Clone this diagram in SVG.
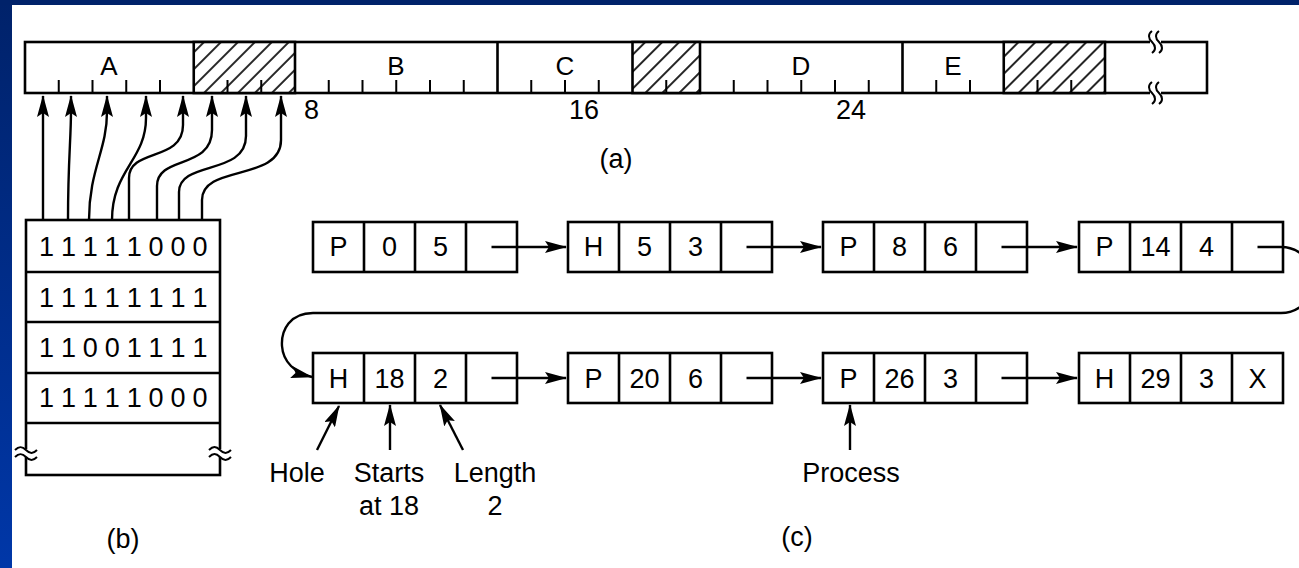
<svg xmlns="http://www.w3.org/2000/svg" width="1299" height="568" viewBox="0 0 1299 568">
<style>
.t{font-family:"Liberation Sans",Arial,Helvetica,sans-serif;font-size:27px;fill:#000;text-anchor:middle}
.ts{font-family:"Liberation Sans",Arial,Helvetica,sans-serif;font-size:27px;fill:#000;text-anchor:start}
.bl{font-size:26px}
.bits{letter-spacing:-0.3px}
.bx{fill:#fff;stroke:#000;stroke-width:2.6}
.ln{fill:none;stroke:#000;stroke-width:2.6}
.tk{fill:none;stroke:#000;stroke-width:2}
.ar{fill:none;stroke:#000;stroke-width:2.4;marker-end:url(#ah)}
</style>
<defs>
<linearGradient id="bg" x1="0" y1="0" x2="0" y2="1">
<stop offset="0" stop-color="#00226a"/>
<stop offset="1" stop-color="#0037a8"/>
</linearGradient>
<pattern id="hatch" patternUnits="userSpaceOnUse" width="12" height="12" patternTransform="rotate(45)">
<rect width="12" height="12" fill="#fff"/>
<line x1="6" y1="0" x2="6" y2="12" stroke="#000" stroke-width="1.7"/>
</pattern>
<marker id="ah" markerUnits="userSpaceOnUse" markerWidth="22" markerHeight="12" refX="21" refY="6" orient="auto">
<path d="M0,0 L22,6 L0,12 L4,6 z" fill="#000"/>
</marker>
</defs>
<rect width="1299" height="568" fill="url(#bg)"/>
<rect x="0" y="0" width="1299" height="5" fill="#00226a"/>
<rect x="12" y="5" width="1287" height="563" fill="#fff"/>

<g id="memory-bar">
<rect class="bx" x="25" y="42" width="1182" height="51"/>
<rect x="193.75" y="42" width="101.25" height="51" fill="url(#hatch)" stroke="#000" stroke-width="2.6"/>
<rect x="632.5" y="42" width="67.5" height="51" fill="url(#hatch)" stroke="#000" stroke-width="2.6"/>
<rect x="1003.75" y="42" width="101.25" height="51" fill="url(#hatch)" stroke="#000" stroke-width="2.6"/>
<path class="ln" d="M497.5,42V93 M902.5,42V93"/>
<path class="tk" d="M58.75,93V80 M92.5,93V80 M126.25,93V80 M160,93V80 M227.5,93V80 M261.25,93V80 M328.75,93V80 M362.5,93V80 M396.25,93V80 M430,93V80 M463.75,93V80 M531.25,93V80 M565,93V80 M598.75,93V80 M666.25,93V80 M733.75,93V80 M767.5,93V80 M801.25,93V80 M835,93V80 M868.75,93V80 M936.25,93V80 M970,93V80 M1037.5,93V80 M1071.25,93V80"/>
<rect x="1150" y="38" width="11" height="8" fill="#fff"/>
<rect x="1150" y="89" width="11" height="8" fill="#fff"/>
<path class="tk" d="M1152,31 c-4,3 -4,7 0,11 c4,4 4,8 0,11 M1159,31 c-4,3 -4,7 0,11 c4,4 4,8 0,11 M1152,82 c-4,3 -4,7 0,11 c4,4 4,8 0,11 M1159,82 c-4,3 -4,7 0,11 c4,4 4,8 0,11"/>
<text class="t bl" x="109" y="75">A</text>
<text class="t bl" x="396" y="75">B</text>
<text class="t bl" x="565" y="75">C</text>
<text class="t bl" x="801" y="75">D</text>
<text class="t bl" x="953" y="75">E</text>
<text class="ts" x="304" y="119">8</text>
<text class="ts" x="569" y="119">16</text>
<text class="ts" x="836" y="119">24</text>
<text class="t" x="616" y="168">(a)</text>
</g>

<g id="bitmap">
<rect class="bx" x="26" y="220" width="194" height="255"/>
<path class="ln" d="M26,272H220 M26,322H220 M26,373H220 M26,423H220"/>
<rect x="22" y="449" width="8" height="8" fill="#fff"/>
<rect x="216" y="449" width="8" height="8" fill="#fff"/>
<path class="tk" d="M15,450 c4,-4 7,-4 11,0 s7,4 11,0 M15,457 c4,-4 7,-4 11,0 s7,4 11,0 M209,450 c4,-4 7,-4 11,0 s7,4 11,0 M209,457 c4,-4 7,-4 11,0 s7,4 11,0"/>
<text class="ts bits" x="39" y="256">1 1 1 1 1 0 0 0</text>
<text class="ts bits" x="39" y="307">1 1 1 1 1 1 1 1</text>
<text class="ts bits" x="39" y="357">1 1 0 0 1 1 1 1</text>
<text class="ts bits" x="39" y="407">1 1 1 1 1 0 0 0</text>
<text class="t" x="123" y="548">(b)</text>
</g>

<g id="node-P-0-5">
<rect class="bx" x="313" y="222" width="204" height="50"/>
<path class="ln" d="M364,222V272 M415,222V272 M466,222V272"/>
<text class="t" x="338.5" y="256">P</text><text class="t" x="389.5" y="256">0</text><text class="t" x="440.5" y="256">5</text>
</g>
<g id="node-H-5-3">
<rect class="bx" x="568" y="222" width="204" height="50"/>
<path class="ln" d="M619,222V272 M670,222V272 M721,222V272"/>
<text class="t" x="593.5" y="256">H</text><text class="t" x="644.5" y="256">5</text><text class="t" x="695.5" y="256">3</text>
</g>
<g id="node-P-8-6">
<rect class="bx" x="823" y="222" width="204" height="50"/>
<path class="ln" d="M874,222V272 M925,222V272 M976,222V272"/>
<text class="t" x="848.5" y="256">P</text><text class="t" x="899.5" y="256">8</text><text class="t" x="950.5" y="256">6</text>
</g>
<g id="node-P-14-4">
<rect class="bx" x="1079" y="222" width="204" height="50"/>
<path class="ln" d="M1130,222V272 M1181,222V272 M1232,222V272"/>
<text class="t" x="1104.5" y="256">P</text><text class="t" x="1155.5" y="256">14</text><text class="t" x="1206.5" y="256">4</text>
</g>
<g id="node-H-18-2">
<rect class="bx" x="313" y="353" width="204" height="50"/>
<path class="ln" d="M364,353V403 M415,353V403 M466,353V403"/>
<text class="t" x="338.5" y="388">H</text><text class="t" x="389.5" y="388">18</text><text class="t" x="440.5" y="388">2</text>
</g>
<g id="node-P-20-6">
<rect class="bx" x="568" y="353" width="204" height="50"/>
<path class="ln" d="M619,353V403 M670,353V403 M721,353V403"/>
<text class="t" x="593.5" y="388">P</text><text class="t" x="644.5" y="388">20</text><text class="t" x="695.5" y="388">6</text>
</g>
<g id="node-P-26-3">
<rect class="bx" x="823" y="353" width="204" height="50"/>
<path class="ln" d="M874,353V403 M925,353V403 M976,353V403"/>
<text class="t" x="848.5" y="388">P</text><text class="t" x="899.5" y="388">26</text><text class="t" x="950.5" y="388">3</text>
</g>
<g id="node-H-29-3">
<rect class="bx" x="1079" y="353" width="204" height="50"/>
<path class="ln" d="M1130,353V403 M1181,353V403 M1232,353V403"/>
<text class="t" x="1104.5" y="388">H</text><text class="t" x="1155.5" y="388">29</text><text class="t" x="1206.5" y="388">3</text><text class="t" x="1257.5" y="388">X</text>
</g>

<g id="labels">
<text class="t" x="297" y="482">Hole</text>
<text class="t" x="389" y="482">Starts</text>
<text class="t" x="389" y="515">at 18</text>
<text class="t" x="495" y="482">Length</text>
<text class="t" x="495" y="515">2</text>
<text class="t" x="851" y="482">Process</text>
<text class="t" x="797" y="546">(c)</text>
</g>

<g id="connectors">
<path class="ar" d="M43,220V96"/>
<path class="ar" d="M68,220 C68,160 71,140 71,110 L71,96"/>
<path class="ar" d="M89,220 C89,170 107,150 107,112 L107,96"/>
<path class="ar" d="M112,220 C112,170 146,160 146,118 L146,96"/>
<path class="ar" d="M129,220 L129,178 C129,148 183,162 183,125 L183,96"/>
<path class="ar" d="M157,220 L157,186 C157,155 212,170 212,130 L212,96"/>
<path class="ar" d="M179,220 L179,192 C179,160 246,176 246,136 L246,96"/>
<path class="ar" d="M202,220 L202,200 C202,164 281,182 281,140 L281,96"/>
<path class="ar" d="M491.5,247H566"/>
<path class="ar" d="M746.5,247H821"/>
<path class="ar" d="M1001.5,247H1077"/>
<path class="ar" d="M1257.5,247H1281 A33,33 0 0 1 1281,313 H313 C290,313 281,330 282,346 C283,362 295,373 312,377"/>
<path class="ar" d="M491.5,378H566"/>
<path class="ar" d="M746.5,378H821"/>
<path class="ar" d="M1001.5,378H1077"/>
<path class="ar" d="M317,450 L339,406"/>
<path class="ar" d="M390,450 V405"/>
<path class="ar" d="M463,450 L440,405"/>
<path class="ar" d="M850,450 V405"/>
</g>
</svg>
